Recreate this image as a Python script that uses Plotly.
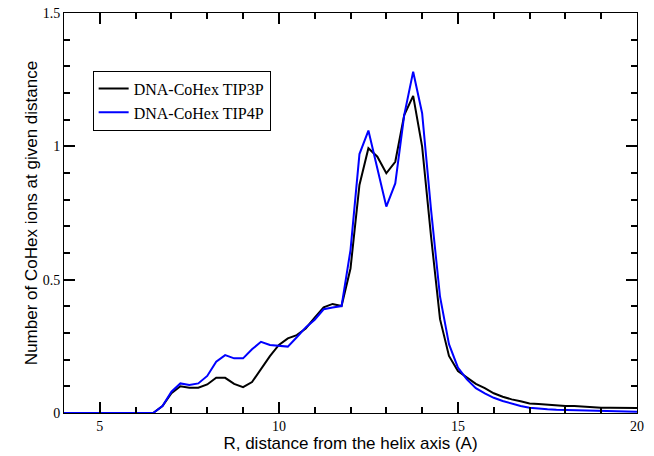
import plotly.graph_objects as go

# x grid: 4.0 to 20.0 step 0.25
r_values = [4 + 0.25 * i for i in range(65)]

tip3p = [
    0, 0, 0, 0, 0, 0, 0, 0,            # 4.0 - 5.75
    0, 0, 0.001, 0.026,                 # 6.0 - 6.75
    0.074, 0.100, 0.095, 0.095,         # 7.0 - 7.75
    0.107, 0.132, 0.132, 0.109,         # 8.0 - 8.75
    0.097, 0.116, 0.167, 0.213,         # 9.0 - 9.75
    0.255, 0.280, 0.292, 0.317,         # 10.0 - 10.75
    0.358, 0.396, 0.409, 0.401,         # 11.0 - 11.75
    0.542, 0.855, 0.993, 0.961,         # 12.0 - 12.75
    0.899, 0.942, 1.117, 1.189,         # 13.0 - 13.75
    0.999, 0.661, 0.352, 0.214,         # 14.0 - 14.75
    0.157, 0.134, 0.109, 0.093,         # 15.0 - 15.75
    0.074, 0.061, 0.051, 0.044,         # 16.0 - 16.75
    0.036, 0.034, 0.031, 0.029,         # 17.0 - 17.75
    0.026, 0.026, 0.024, 0.021,         # 18.0 - 18.75
    0.020, 0.020, 0.019, 0.019,         # 19.0 - 19.75
    0.019,                              # 20.0
]

tip4p = [
    0, 0, 0, 0, 0, 0, 0, 0,
    0, 0, 0.001, 0.026,
    0.080, 0.111, 0.105, 0.111,
    0.139, 0.192, 0.217, 0.205,
    0.205, 0.239, 0.267, 0.255,
    0.252, 0.249, 0.284, 0.321,
    0.350, 0.389, 0.396, 0.401,
    0.611, 0.971, 1.059, 0.911,
    0.774, 0.861, 1.117, 1.280,
    1.124, 0.761, 0.436, 0.258,
    0.170, 0.126, 0.093, 0.074,
    0.057, 0.045, 0.034, 0.026,
    0.020, 0.016, 0.014, 0.012,
    0.011, 0.010, 0.009, 0.008,
    0.007, 0.006, 0.006, 0.005,
    0.005,
]

series_names = ["DNA-CoHex TIP3P", "DNA-CoHex TIP4P"]
series_colors = ["#000000", "#0000ff"]

fig = go.Figure()
for name, ys, col in zip(series_names, [tip3p, tip4p], series_colors):
    fig.add_trace(go.Scatter(x=r_values, y=ys, mode="lines", name=name,
                             line=dict(color=col, width=2)))

serif = "Liberation Serif"
sans = "Liberation Sans"

fig.update_xaxes(range=[4, 20], dtick=5, tick0=0,
                 showline=True, linecolor="black", mirror="ticks",
                 ticks="inside", ticklen=11, tickwidth=1.5, tickcolor="black",
                 gridcolor="white",
                 tickfont=dict(family=serif, size=14, color="black"),
                 minor=dict(ticks="inside", ticklen=6, dtick=1, tickcolor="black", tickwidth=1.5),
                 title=dict(text="R, distance from the helix axis (A)",
                            font=dict(family=sans, size=17, color="black"), standoff=0))
fig.update_yaxes(range=[0, 1.5], dtick=0.5, tick0=0,
                 showline=True, linecolor="black", mirror="ticks",
                 ticks="inside", ticklen=11, tickwidth=1.5, tickcolor="black",
                 gridcolor="white",
                 tickfont=dict(family=serif, size=14, color="black"),
                 minor=dict(ticks="inside", ticklen=6, dtick=0.1, tickcolor="black", tickwidth=1.5),
                 title=dict(text="Number of CoHex ions at given distance",
                            font=dict(family=sans, size=17, color="black"), standoff=0))

fig.update_layout(
    width=654, height=456,
    margin=dict(l=64, r=17, t=13, b=43, autoexpand=False),
    paper_bgcolor="white", plot_bgcolor="white",
    showlegend=True,
    legend=dict(x=0.05, y=0.856, xanchor="left", yanchor="top",
                bordercolor="black", borderwidth=1, bgcolor="white",
                font=dict(family=serif, size=16, color="black"),
                tracegroupgap=0, itemwidth=30),
)

fig.write_html("out.html", config={"displayModeBar": False},
               post_script="document.body.style.margin='0px';")
